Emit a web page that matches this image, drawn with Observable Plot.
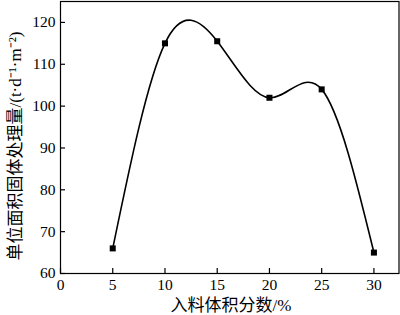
<!DOCTYPE html>
<html><head><meta charset="utf-8">
<script src="https://cdn.jsdelivr.net/npm/d3@7"></script>
<script src="https://cdn.jsdelivr.net/npm/@observablehq/plot@0.6"></script>
<style>
body{margin:0;background:#fff}
</style>
</head><body><div id="chart"></div>
<script>
const xValues = [5, 10, 15, 20, 25, 30];
const yValues = [66, 115, 115.5, 102, 104, 65];
const xTicks = [0, 5, 10, 15, 20, 25, 30];
const yTicks = [60, 70, 80, 90, 100, 110, 120];
const xLabel = "入料体积分数/%";
const yLabel = "单位面积固体处理量/(t·d⁻¹·m⁻²)";

const data = xValues.map((x, i) => ({x, y: yValues[i]}));
const font = "'Liberation Serif','Noto Sans CJK SC',serif";

const chart = Plot.plot({
  width: 400, height: 315,
  marginLeft: 60, marginRight: 1.5, marginTop: 1, marginBottom: 42,
  style: {fontSize: "15.5px", color: "#000", background: "#fff"},
  x: {domain: [0, 32.4]},
  y: {domain: [60, 125]},
  marks: [
    Plot.frame({stroke: "#000", strokeWidth: 1.2}),
    Plot.axisX({ticks: xTicks, tickSize: -5, text: null, label: null, stroke: "#000", strokeWidth: 1.2}),
    Plot.axisX({ticks: xTicks, tickSize: 0, tickPadding: 5, label: null, fontSize: 15.5}),
    Plot.axisY({ticks: yTicks, tickSize: -5, text: null, label: null, stroke: "#000", strokeWidth: 1.2}),
    Plot.axisY({ticks: yTicks, tickSize: 0, tickPadding: 5, label: null, fontSize: 15.5}),
    Plot.line(data, {x: "x", y: "y", curve: "natural", stroke: "#000", strokeWidth: 1.6}),
    Plot.dot(data, {x: "x", y: "y", symbol: "square", r: 3.4, fill: "#000", stroke: "none"})
  ]
});
const svg = d3.select(chart);
svg.append("text").attr("x", 231).attr("y", 311).attr("text-anchor", "middle")
  .attr("font-size", 17).text(xLabel);
svg.append("text").attr("transform", "translate(21,146) rotate(-90)").attr("text-anchor", "middle")
  .attr("font-size", 17).text(yLabel);
svg.style("font-family", font);
svg.selectAll("g").attr("font-family", null).style("font-family", font);
svg.selectAll("text").style("font-family", font);
document.getElementById("chart").append(chart);
</script></body></html>
